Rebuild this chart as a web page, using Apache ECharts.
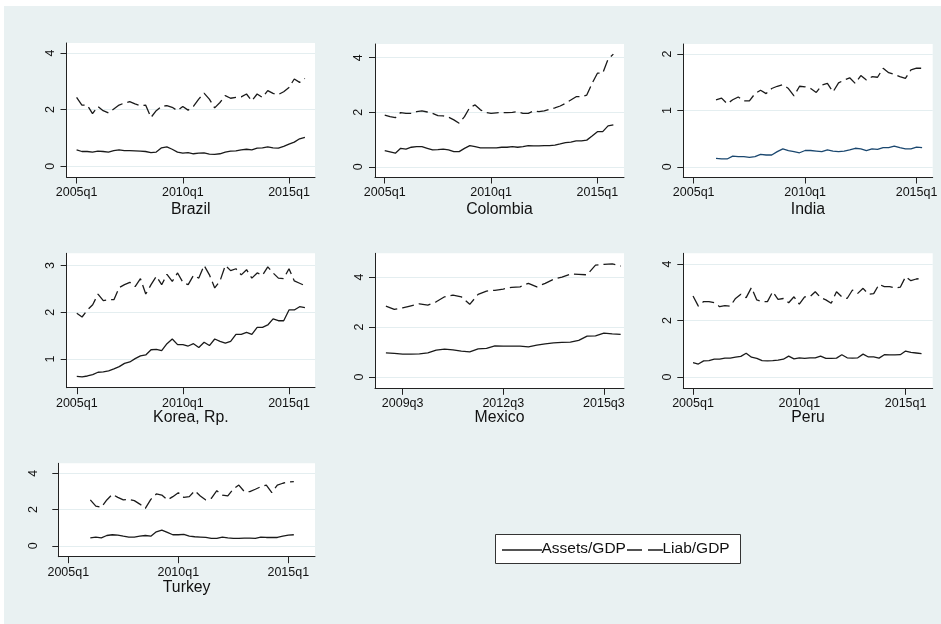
<!DOCTYPE html>
<html>
<head>
<meta charset="utf-8">
<script src="https://cdn.jsdelivr.net/npm/echarts@6/dist/echarts.min.js"></script>
<style>
html,body{margin:0;padding:0;background:#fff;}
#chart{width:941px;height:624px;}
</style>
</head>
<body>
<div id="chart"></div>
<script>
// Quarter index: 0 = 2005q1
const countries = ['Brazil', 'Colombia', 'India', 'Korea, Rp.', 'Mexico', 'Peru', 'Turkey'];
const startQuarter = [0, 0, 4, 0, 16, 0, 4];
const xTicks = [0, 20, 40];
const xTicksMexico = [18, 30, 42];
const yTicksBrazil = [0, 2, 4];
const yTicksColombia = [0, 2, 4];
const yTicksIndia = [0, 1, 2];
const yTicksKorea = [1, 2, 3];
const yTicksMexico = [0, 2, 4];
const yTicksPeru = [0, 2, 4];
const yTicksTurkey = [0, 2, 4];
const legendNames = ['Assets/GDP', 'Liab/GDP'];

const brazilAssets = [0.58,0.52,0.52,0.50,0.53,0.52,0.50,0.55,0.58,0.55,0.55,0.54,0.53,0.52,0.48,0.50,0.65,0.68,0.60,0.50,0.46,0.48,0.44,0.46,0.47,0.43,0.42,0.44,0.50,0.53,0.54,0.58,0.60,0.58,0.64,0.65,0.68,0.65,0.64,0.70,0.78,0.85,0.97,1.02];
const brazilLiab = [2.43,2.16,2.16,1.86,2.11,1.96,1.88,2.02,2.16,2.23,2.28,2.20,2.14,2.16,1.72,1.96,2.11,2.14,2.08,1.96,2.11,1.98,2.11,2.37,2.58,2.37,2.06,2.25,2.49,2.40,2.43,2.45,2.55,2.31,2.55,2.43,2.67,2.57,2.53,2.63,2.78,3.08,2.96,3.10];

const colombiaAssets = [0.60,0.55,0.50,0.68,0.65,0.72,0.74,0.74,0.68,0.62,0.63,0.65,0.62,0.56,0.56,0.68,0.78,0.74,0.70,0.70,0.70,0.70,0.72,0.72,0.74,0.72,0.74,0.78,0.77,0.77,0.78,0.78,0.80,0.84,0.89,0.91,0.95,0.95,0.98,1.13,1.29,1.29,1.50,1.54];
const colombiaLiab = [1.90,1.84,1.80,1.99,1.96,1.96,2.02,2.05,2.01,1.96,1.88,1.87,1.82,1.72,1.60,1.84,2.18,2.27,2.09,1.99,1.96,1.98,1.99,1.99,2.00,2.02,1.96,1.96,2.05,2.02,2.05,2.11,2.16,2.23,2.33,2.45,2.57,2.57,2.63,3.06,3.43,3.43,3.94,4.13];

const indiaAssets = [0.15,0.14,0.14,0.19,0.18,0.18,0.17,0.18,0.22,0.21,0.21,0.27,0.32,0.29,0.27,0.25,0.29,0.29,0.28,0.27,0.30,0.28,0.27,0.28,0.30,0.33,0.32,0.29,0.32,0.31,0.34,0.34,0.37,0.34,0.32,0.32,0.35,0.34];
const indiaLiab = [1.19,1.22,1.12,1.19,1.24,1.17,1.17,1.30,1.36,1.30,1.39,1.43,1.46,1.39,1.26,1.43,1.42,1.39,1.32,1.45,1.48,1.33,1.49,1.54,1.58,1.48,1.62,1.54,1.60,1.59,1.75,1.67,1.64,1.60,1.57,1.72,1.75,1.75];

const koreaAssets = [0.63,0.62,0.64,0.67,0.72,0.73,0.75,0.79,0.84,0.91,0.94,1.01,1.07,1.09,1.20,1.21,1.18,1.33,1.43,1.31,1.31,1.28,1.33,1.25,1.36,1.29,1.43,1.38,1.34,1.38,1.53,1.53,1.57,1.53,1.68,1.68,1.73,1.86,1.82,1.82,2.05,2.05,2.12,2.10];
const koreaLiab = [1.98,1.90,2.05,2.16,2.39,2.25,2.27,2.27,2.53,2.59,2.64,2.55,2.72,2.39,2.59,2.77,2.59,2.81,2.66,2.84,2.64,2.59,2.79,2.73,3.00,2.80,2.52,2.67,3.00,2.89,2.93,2.80,2.91,2.73,2.84,2.79,2.97,2.84,2.73,2.72,2.93,2.67,2.62,2.57];

const mexicoAssets = [0.97,0.95,0.92,0.92,0.93,0.97,1.08,1.12,1.09,1.04,1.01,1.13,1.15,1.25,1.24,1.24,1.24,1.21,1.28,1.33,1.37,1.39,1.40,1.47,1.64,1.65,1.76,1.73,1.71];
const mexicoLiab = [2.84,2.71,2.77,2.85,2.93,2.88,3.01,3.21,3.28,3.21,2.91,3.31,3.44,3.47,3.52,3.59,3.61,3.75,3.61,3.75,3.91,4.00,4.12,4.11,4.09,4.48,4.51,4.53,4.44];

const peruAssets = [0.51,0.46,0.57,0.58,0.63,0.63,0.67,0.67,0.70,0.73,0.84,0.70,0.66,0.58,0.57,0.58,0.60,0.63,0.74,0.64,0.68,0.66,0.68,0.68,0.74,0.66,0.66,0.67,0.79,0.68,0.67,0.68,0.81,0.71,0.71,0.67,0.79,0.78,0.78,0.79,0.92,0.87,0.85,0.83];
const peruLiab = [2.87,2.51,2.67,2.67,2.63,2.49,2.53,2.51,2.78,2.93,2.81,3.17,2.73,2.67,2.67,3.02,2.75,2.78,2.63,2.84,2.58,2.84,2.84,3.02,2.81,2.73,2.61,3.02,2.84,2.78,3.08,2.96,3.14,2.93,2.95,3.28,3.20,3.20,3.15,3.18,3.55,3.41,3.47,3.49];

const turkeyAssets = [0.44,0.48,0.44,0.57,0.61,0.59,0.53,0.48,0.48,0.53,0.57,0.53,0.77,0.87,0.74,0.61,0.61,0.63,0.53,0.50,0.48,0.46,0.41,0.41,0.48,0.44,0.41,0.41,0.42,0.42,0.41,0.48,0.46,0.46,0.46,0.53,0.59,0.61];
const turkeyLiab = [2.53,2.19,2.12,2.53,2.84,2.67,2.53,2.56,2.49,2.30,2.06,2.56,2.86,2.80,2.53,2.71,2.93,2.67,2.71,3.04,2.75,2.53,2.62,3.04,2.80,2.75,3.13,3.35,2.99,2.99,3.12,3.26,3.35,2.93,3.35,3.45,3.52,3.54];

const assetsSeries = [brazilAssets, colombiaAssets, indiaAssets, koreaAssets, mexicoAssets, peruAssets, turkeyAssets];
const liabSeries = [brazilLiab, colombiaLiab, indiaLiab, koreaLiab, mexicoLiab, peruLiab, turkeyLiab];
const yTickSets = [yTicksBrazil, yTicksColombia, yTicksIndia, yTicksKorea, yTicksMexico, yTicksPeru, yTicksTurkey];

// layout (presentation only)
const panels = [
  {left:66.5, top:43, width:248.5, height:134, xmin:-1.9, xmax:44.9, ymin:-0.38, ymax:4.35, ym:9.5},
  {left:375, top:44, width:249, height:133, xmin:-1.83, xmax:45.0, ymin:-0.37, ymax:4.5, ym:9.5},
  {left:683.3, top:44, width:249.4, height:133, xmin:-1.87, xmax:42.9, ymin:-0.18, ymax:2.18, ym:9.5},
  {left:66.7, top:253.3, width:248.3, height:134.4, xmin:-1.9, xmax:44.9, ymin:0.39, ymax:3.26, ym:9.5},
  {left:375, top:253.3, width:249, height:135, xmin:14.7, xmax:44.4, ymin:-0.45, ymax:4.95, ym:9},
  {left:683.3, top:253.3, width:249.4, height:135, xmin:-1.83, xmax:45.1, ymin:-0.4, ymax:4.38, ym:9.5},
  {left:58.3, top:463.3, width:256.7, height:93.4, xmin:-1.82, xmax:44.85, ymin:-0.6, ymax:4.55, ym:18}
];

const FONT = '"Liberation Sans", Arial, sans-serif';
function qLabel(t) {
  const y = 2005 + Math.floor(t / 4);
  const q = ((t % 4) + 4) % 4 + 1;
  return y + 'q' + q;
}

const grid = [], xAxis = [], yAxis = [], series = [], graphic = [];
graphic.push({type:'rect', shape:{x:4, y:6, width:941, height:624}, style:{fill:'#e9f1f2'}, silent:true, z:-10});

panels.forEach((p, i) => {
  grid.push({left:p.left, top:p.top, width:p.width, height:p.height, backgroundColor:'#ffffff', show:true, borderWidth:0, containLabel:false});
  const xt = i === 4 ? xTicksMexico : xTicks;
  xAxis.push({
    type:'value', gridIndex:i, min:p.xmin, max:p.xmax,
    axisLine:{show:true, onZero:false, lineStyle:{color:'#222', width:1}},
    axisTick:{show:true, length:6.5, customValues:xt, lineStyle:{color:'#222', width:1}},
    axisLabel:{show:true, customValues:xt, margin:9, formatter:(v)=>qLabel(Math.round(v)), color:'#111', fontSize:12.5, fontFamily:FONT},
    splitLine:{show:false}
  });
  yAxis.push({
    type:'value', gridIndex:i, min:p.ymin, max:p.ymax,
    axisLine:{show:true, onZero:false, lineStyle:{color:'#222', width:1}},
    axisTick:{show:true, length:6, customValues:yTickSets[i], lineStyle:{color:'#222', width:1}},
    axisLabel:{show:true, customValues:yTickSets[i], rotate:90, margin:p.ym, color:'#111', fontSize:12.5, fontFamily:FONT},
    splitLine:{show:true, lineStyle:{color:'#e4eef0', width:1}}
  });
  const s0 = startQuarter[i];
  series.push({
    name:legendNames[0], type:'line', xAxisIndex:i, yAxisIndex:i, showSymbol:false, symbol:'none',
    data:assetsSeries[i].map((v,k)=>[s0+k, v]),
    lineStyle:{color: i === 2 ? '#1a476f' : '#1a1a1a', width:1.3, type:'solid'},
    animation:false, silent:true
  });
  series.push({
    name:legendNames[1], type:'line', xAxisIndex:i, yAxisIndex:i, showSymbol:false, symbol:'none',
    data:liabSeries[i].map((v,k)=>[s0+k, v]),
    lineStyle:{color:'#1a1a1a', width:1.3, type:[12,5]},
    animation:false, silent:true
  });
  const titleY = i < 3 ? 210 : (i < 6 ? 418 : 588);
  graphic.push({type:'text', x:p.left + p.width/2, y:titleY, style:{text:countries[i], fill:'#111', font:'15.8px ' + FONT, textAlign:'center', textVerticalAlign:'middle'}, silent:true});
});

// legend box
graphic.push({type:'rect', shape:{x:495.5, y:534.5, width:245, height:29}, style:{fill:'#fff', stroke:'#333', lineWidth:1}, silent:true});
graphic.push({type:'line', shape:{x1:502, y1:550, x2:542, y2:550}, style:{stroke:'#1a1a1a', lineWidth:1.3}, silent:true});
graphic.push({type:'text', x:541.5, y:549, style:{text:legendNames[0], fill:'#111', font:'15.5px ' + FONT, textAlign:'left', textVerticalAlign:'middle'}, silent:true});
graphic.push({type:'line', shape:{x1:627, y1:550, x2:663, y2:550}, style:{stroke:'#1a1a1a', lineWidth:1.3, lineDash:[15,6]}, silent:true});
graphic.push({type:'text', x:662.5, y:549, style:{text:legendNames[1], fill:'#111', font:'15.5px ' + FONT, textAlign:'left', textVerticalAlign:'middle'}, silent:true});

const chart = echarts.init(document.getElementById('chart'), null, {renderer:'canvas'});
chart.setOption({backgroundColor:'#ffffff', animation:false, grid, xAxis, yAxis, series, graphic});
</script>
</body>
</html>
